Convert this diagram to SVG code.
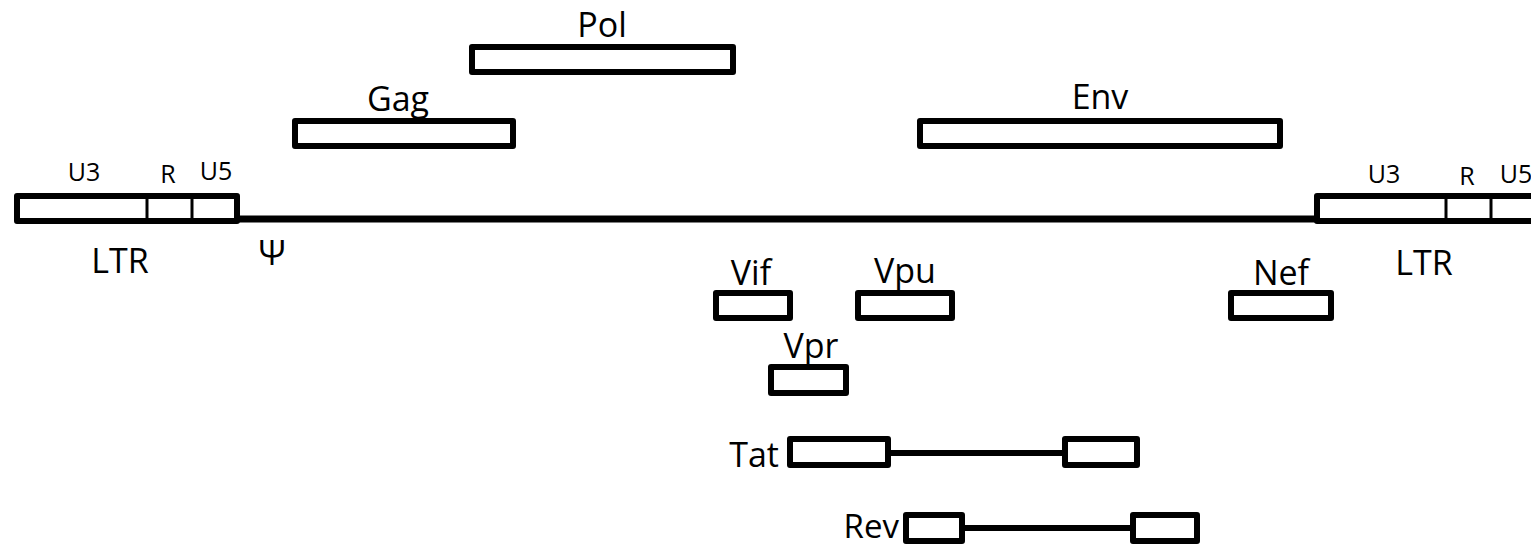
<svg xmlns="http://www.w3.org/2000/svg" width="1531" height="546" viewBox="0 0 1531 546">
<style>
.box{fill:#fff;stroke:#000;stroke-width:6;stroke-linejoin:round}
.div{stroke:#000;stroke-width:3}
.ln{stroke:#000;stroke-width:6;fill:none}
.lbl{font-family:"Open Sans","Liberation Sans",sans-serif;font-size:34px;fill:#000;text-anchor:middle}
.sm{font-family:"Open Sans","Liberation Sans",sans-serif;font-size:25px;fill:#000;text-anchor:middle}
</style>
<rect width="1531" height="546" fill="#fff"/>
<g id="connectors">
<line class="ln" x1="237" y1="219" x2="1317" y2="219" style="stroke-width:7"/>
<line class="ln" x1="888" y1="453" x2="1065" y2="453"/>
<line class="ln" x1="962" y1="528" x2="1133" y2="528"/>
</g>
<g id="ltr-left">
<rect class="box" x="17" y="196" width="220" height="25"/>
<line class="div" x1="147" y1="197" x2="147" y2="220"/>
<line class="div" x1="192" y1="197" x2="192" y2="220"/>
<text class="sm" x="84" y="181">U3</text>
<text class="sm" x="168" y="183">R</text>
<text class="sm" x="216" y="180">U5</text>
<text class="lbl" x="120" y="273">LTR</text>
</g>
<g id="psi"><text class="lbl" x="272" y="265">Ψ</text></g>
<g id="ltr-right">
<rect class="box" x="1317" y="196" width="230" height="25"/>
<line class="div" x1="1446" y1="197" x2="1446" y2="220"/>
<line class="div" x1="1491" y1="197" x2="1491" y2="220"/>
<text class="sm" x="1384" y="183">U3</text>
<text class="sm" x="1467" y="185">R</text>
<text class="sm" x="1516" y="183">U5</text>
<text class="lbl" x="1424" y="275">LTR</text>
</g>
<g id="gag">
<rect class="box" x="295" y="121" width="218" height="25"/>
<text class="lbl" x="398" y="111">Gag</text>
</g>
<g id="pol">
<rect class="box" x="472" y="47" width="261" height="25"/>
<text class="lbl" x="602" y="37">Pol</text>
</g>
<g id="env">
<rect class="box" x="920" y="121" width="360" height="25"/>
<text class="lbl" x="1100" y="109">Env</text>
</g>
<g id="vif">
<rect class="box" x="716" y="293" width="74" height="25"/>
<text class="lbl" x="751" y="285">Vif</text>
</g>
<g id="vpu">
<rect class="box" x="858" y="293" width="94" height="25"/>
<text class="lbl" x="905" y="283">Vpu</text>
</g>
<g id="nef">
<rect class="box" x="1231" y="293" width="100" height="25"/>
<text class="lbl" x="1281" y="285">Nef</text>
</g>
<g id="vpr">
<rect class="box" x="771" y="367" width="75" height="26"/>
<text class="lbl" x="811" y="358">Vpr</text>
</g>
<g id="tat">
<rect class="box" x="790" y="439" width="98" height="26"/>
<rect class="box" x="1065" y="439" width="72" height="26"/>
<text class="lbl" x="779" y="467" style="text-anchor:end">Tat</text>
</g>
<g id="rev">
<rect class="box" x="906" y="515" width="56" height="26"/>
<rect class="box" x="1133" y="515" width="64" height="26"/>
<text class="lbl" x="899" y="538" style="text-anchor:end;font-size:33px">Rev</text>
</g>
</svg>
